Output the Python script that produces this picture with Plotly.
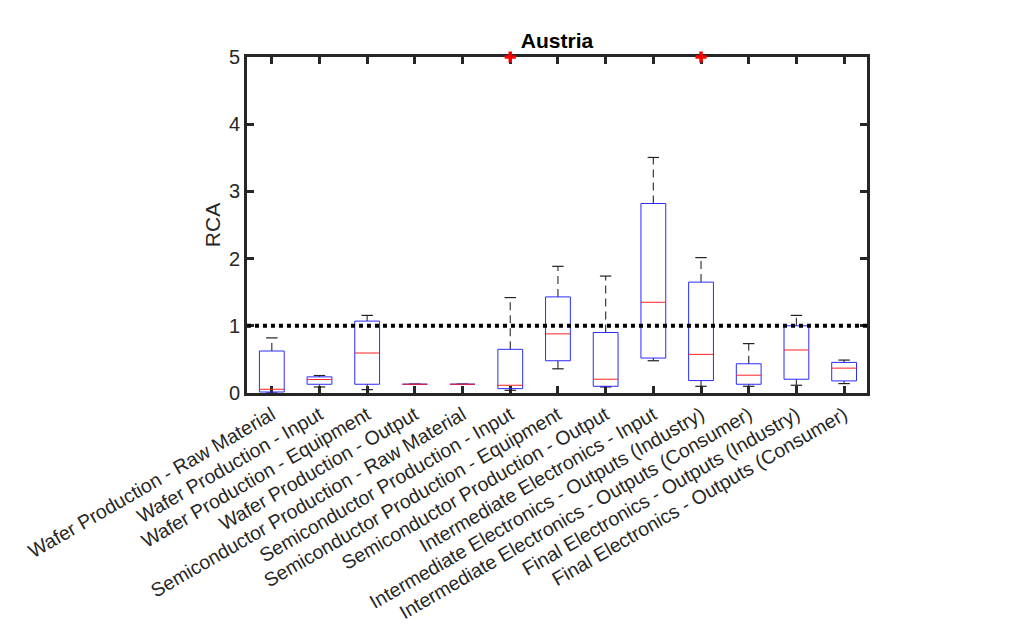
import plotly.graph_objects as go

categories = [
    "Wafer Production - Raw Material",
    "Wafer Production - Input",
    "Wafer Production - Equipment",
    "Wafer Production - Output",
    "Semiconductor Production - Raw Material",
    "Semiconductor Production - Input",
    "Semiconductor Production - Equipment",
    "Semiconductor Production - Output",
    "Intermediate Electronics - Input",
    "Intermediate Electronics - Outputs (Industry)",
    "Intermediate Electronics - Outputs (Consumer)",
    "Final Electronics - Outputs (Industry)",
    "Final Electronics - Outputs (Consumer)",
]
lower_whisker = [0.00, 0.09, 0.05, 0.13, 0.13, 0.04, 0.36, 0.09, 0.48, 0.10, 0.10, 0.115, 0.14]
q1 =            [0.015, 0.13, 0.13, 0.13, 0.13, 0.065, 0.48, 0.10, 0.52, 0.185, 0.13, 0.205, 0.18]
median =        [0.055, 0.20, 0.595, 0.13, 0.13, 0.115, 0.88, 0.205, 1.35, 0.575, 0.265, 0.64, 0.37]
q3 =            [0.625, 0.24, 1.07, 0.13, 0.13, 0.65, 1.43, 0.90, 2.82, 1.65, 0.435, 1.00, 0.455]
upper_whisker = [0.82, 0.26, 1.155, 0.13, 0.13, 1.42, 1.885, 1.74, 3.505, 2.015, 0.735, 1.155, 0.49]
outlier_index = [5, 9]
outlier_value = [5.0, 5.0]
threshold = 1.0
title_text = "Austria"
ytick_vals = [0, 1, 2, 3, 4, 5]

HALF_BOX = 0.26
HALF_CAP = 0.12

bx, by, mx, my, wx, wy, cx, cy = [], [], [], [], [], [], [], []
for i in range(len(categories)):
    bx += [i - HALF_BOX, i + HALF_BOX, i + HALF_BOX, i - HALF_BOX, i - HALF_BOX, None]
    by += [q1[i], q1[i], q3[i], q3[i], q1[i], None]
    mx += [i - HALF_BOX, i + HALF_BOX, None]
    my += [median[i], median[i], None]
    wx += [i, i, None, i, i, None]
    wy += [q3[i], upper_whisker[i], None, q1[i], lower_whisker[i], None]
    cx += [i - HALF_CAP, i + HALF_CAP, None, i - HALF_CAP, i + HALF_CAP, None]
    cy += [upper_whisker[i], upper_whisker[i], None, lower_whisker[i], lower_whisker[i], None]

fig = go.Figure()
fig.add_trace(go.Scatter(x=wx, y=wy, mode="lines", line=dict(color="#3a3a3a", width=1.2, dash="8px,5px"),
                         hoverinfo="skip", showlegend=False))
fig.add_trace(go.Scatter(x=cx, y=cy, mode="lines", line=dict(color="#222222", width=1.2),
                         hoverinfo="skip", showlegend=False))
fig.add_trace(go.Scatter(x=bx, y=by, mode="lines", line=dict(color="#2a2aff", width=1),
                         hoverinfo="skip", showlegend=False))
fig.add_trace(go.Scatter(x=mx, y=my, mode="lines", line=dict(color="#ff2020", width=1),
                         hoverinfo="skip", showlegend=False))
fig.add_trace(go.Scatter(x=outlier_index, y=outlier_value, mode="markers",
                         marker=dict(symbol="cross-thin", size=8, line=dict(color="#ff0000", width=3.5)),
                         cliponaxis=False, hoverinfo="skip", showlegend=False))

fig.add_shape(type="line", xref="paper", x0=0, x1=1, yref="y", y0=threshold, y1=threshold,
              line=dict(color="black", width=4, dash="dot"), layer="above")

font_family = "Liberation Sans, Arial, sans-serif"
fig.update_layout(
    width=1024, height=641,
    margin=dict(l=247, r=157, t=57, b=248, pad=0),
    paper_bgcolor="white", plot_bgcolor="white",
    font=dict(family=font_family, color="#262626"),
    title=dict(text="<b>" + title_text + "</b>", x=0.5, xref="paper", xanchor="center",
               y=1 - 41 / 641, yref="container", yanchor="middle",
               font=dict(size=21, color="black", family=font_family)),
    showlegend=False,
)
fig.update_xaxes(
    range=[-0.52, 12.48], tickmode="array", tickvals=list(range(len(categories))), ticktext=categories,
    tickangle=-30, tickfont=dict(size=19.5, color="#262626"),
    showline=True, linecolor="#262626", linewidth=3, mirror="allticks",
    ticks="inside", ticklen=7, tickwidth=3, tickcolor="#262626",
    showgrid=False, zeroline=False, layer="below traces",
)
fig.update_yaxes(
    range=[0, 5], tickmode="array", tickvals=ytick_vals, ticktext=[str(v) for v in ytick_vals],
    tickfont=dict(size=20, color="#262626"),
    title=dict(text="RCA", font=dict(size=21, color="#262626"), standoff=3),
    showline=True, linecolor="#262626", linewidth=3, mirror="allticks",
    ticks="inside", ticklen=7, tickwidth=3, tickcolor="#262626",
    showgrid=False, zeroline=False, layer="below traces",
)

fig.write_html("out.html")
